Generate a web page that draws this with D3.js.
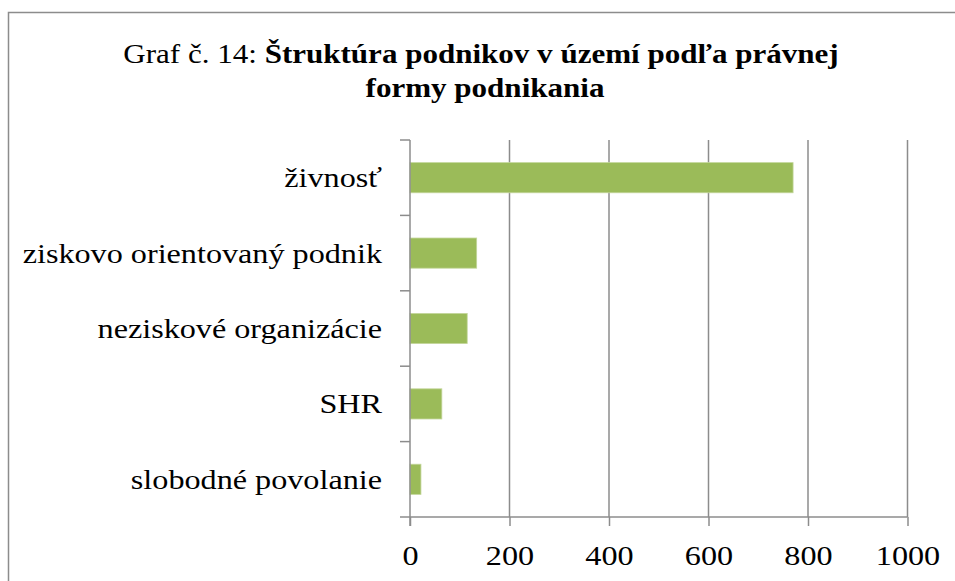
<!DOCTYPE html>
<html>
<head>
<meta charset="utf-8">
<script src="https://cdn.jsdelivr.net/npm/d3@7"></script>
<style>
  body { margin: 0; background: #fff; }
</style>
</head>
<body>
<svg id="graf" width="955" height="581"></svg>
<script>
// data
var kategorie = ["živnosť", "ziskovo orientovaný podnik", "neziskové organizácie", "SHR", "slobodné povolanie"];
var pocty = [770, 134, 115, 64, 22];
var osX = [0, 200, 400, 600, 800, 1000];

var pismo = "Liberation Serif, Tinos, DejaVu Serif, Times New Roman, serif";
var natiahnutie = 1.15; // text v povodnom obrazku je trochu siroky

var svg = d3.select("#graf")
  .attr("font-family", pismo);

// ramik okolo grafu
svg.append("rect")
  .attr("x", 8.5).attr("y", 12.5)
  .attr("width", 960).attr("height", 600)
  .attr("fill", "none")
  .attr("stroke", "#8c8c8c")
  .attr("stroke-width", 1.5);

// nadpis
var t1 = svg.append("text")
  .attr("transform", "translate(481,63) scale(" + natiahnutie + ",1)")
  .attr("text-anchor", "middle")
  .attr("font-size", 27);
t1.append("tspan").text("Graf č. 14: ");
t1.append("tspan").attr("font-weight", "bold").text("Štruktúra podnikov v území podľa právnej");
svg.append("text")
  .attr("transform", "translate(485,97) scale(" + natiahnutie + ",1)")
  .attr("text-anchor", "middle")
  .attr("font-weight", "bold")
  .attr("font-size", 27)
  .text("formy podnikania");

var lavo = 410, pravo = 907.5, hore = 140, dole = 517;

var x = d3.scaleLinear().domain([0, 1000]).range([lavo, pravo]);
var y = d3.scaleBand().domain(kategorie).range([hore, dole]).paddingInner(0.6).paddingOuter(0.3);

// mriezka
svg.append("g")
  .selectAll("line")
  .data(osX.slice(1))
  .enter()
  .append("line")
    .attr("x1", function (d) { return x(d); })
    .attr("x2", function (d) { return x(d); })
    .attr("y1", hore).attr("y2", dole)
    .attr("stroke", "#8c8c8c")
    .attr("stroke-width", 1.5);

// stlpce
svg.append("g")
  .selectAll("rect")
  .data(kategorie)
  .enter()
  .append("rect")
    .attr("x", x(0))
    .attr("y", function (d) { return y(d); })
    .attr("width", function (d, i) { return x(pocty[i]) - x(0); })
    .attr("height", y.bandwidth())
    .attr("fill", "#9bbb59")
    .attr("stroke", "#c3d69b")
    .attr("stroke-width", 0.8);

// os x
var gx = svg.append("g")
  .attr("transform", "translate(0," + dole + ")")
  .call(d3.axisBottom(x).tickValues(osX).tickFormat(d3.format("d")).tickSize(9).tickPadding(14).tickSizeOuter(0))
  .attr("font-family", pismo)
  .attr("font-size", 28);
gx.select(".domain").remove();
gx.append("line")
  .attr("x1", lavo - 10).attr("x2", pravo)
  .attr("stroke", "#8c8c8c").attr("stroke-width", 1.5);
gx.selectAll(".tick line").attr("stroke", "#8c8c8c").attr("stroke-width", 1.5);
gx.selectAll(".tick text")
  .attr("fill", "#000")
  .attr("y", null)
  .attr("dy", null)
  .attr("transform", "translate(0,48) scale(" + natiahnutie + ",1)");

// os y
var krok = (dole - hore) / kategorie.length;
svg.append("line")
  .attr("x1", lavo).attr("x2", lavo)
  .attr("y1", hore).attr("y2", dole + 9)
  .attr("stroke", "#8c8c8c").attr("stroke-width", 1.5);
svg.append("g")
  .selectAll("line")
  .data(d3.range(kategorie.length))
  .enter()
  .append("line")
    .attr("x1", lavo - 10).attr("x2", lavo)
    .attr("y1", function (d) { return hore + d * krok; })
    .attr("y2", function (d) { return hore + d * krok; })
    .attr("stroke", "#8c8c8c").attr("stroke-width", 1.5);

svg.append("g")
  .attr("font-size", 28)
  .selectAll("text")
  .data(kategorie)
  .enter()
  .append("text")
    .attr("transform", function (d) {
      return "translate(382," + (y(d) + y.bandwidth() / 2 + 9.5) + ") scale(" + natiahnutie + ",1)";
    })
    .attr("text-anchor", "end")
    .text(function (d) { return d; });
</script>
</body>
</html>
